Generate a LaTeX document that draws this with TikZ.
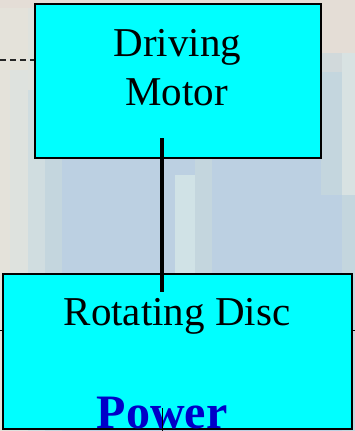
\documentclass[tikz,border=0pt]{standalone}
\usepackage{fontspec}
\setmainfont{Liberation Serif}
\begin{document}
\begin{tikzpicture}[x=1pt,y=-1pt,
  boxstyle/.style={draw=black,line width=1.8pt,fill=boxcyan,inner sep=0pt},
  labeltext/.style={anchor=base,inner sep=0pt,font=\fontsize{41}{49}\selectfont},
  powertext/.style={anchor=base,inner sep=0pt,text=powerblue,font=\fontsize{48}{56}\selectfont\bfseries},
  shaft/.style={line width=4.5pt,black},
  thinline/.style={line width=0.8pt,black}]
\definecolor{boxcyan}{HTML}{00FFFF}
\definecolor{powerblue}{HTML}{0000C8}
\definecolor{bgblue}{HTML}{BCD0E2}
\definecolor{bgbeige}{HTML}{E4E2DA}
\definecolor{bgpink}{HTML}{E4DDD6}
\definecolor{bgpale}{HTML}{D8E2E2}
\definecolor{bgmist}{HTML}{C4D6DE}
\definecolor{bglight}{HTML}{D0E2E6}
\useasboundingbox (0,0) rectangle (355,431);
% backdrop
\fill[bgblue] (0,0) rectangle (355,431);
\fill[bgbeige] (0,0) rectangle (28,431);
\fill[bgbeige!50!bgpale] (10,70) rectangle (28,431);
\fill[bgbeige!60!bgpale] (28,0) rectangle (45,90);
\fill[bgpale!60!bgmist] (28,90) rectangle (45,431);
\fill[bgmist] (45,158) rectangle (62,431);
\fill[bgpink] (0,0) rectangle (355,8);
\fill[bgpink] (321,0) rectangle (355,53);
\fill[bgmist!60!bgpink] (321,53) rectangle (342,72);
\fill[bgmist] (321,72) rectangle (342,195);
\fill[bgpale] (342,53) rectangle (355,195);
\fill[bgmist] (342,195) rectangle (355,431);
\fill[bglight] (175,175) rectangle (195,274);
\fill[bgmist] (195,158) rectangle (212,274);
% guide lines behind the boxes
\coordinate (dashL) at (0,60);
\coordinate (dashR) at (36,60);
\draw[line width=1.3pt,black!85,dash pattern=on 6pt off 4pt] (dashL) -- (dashR);
\coordinate (axisL) at (0,330);
\coordinate (axisR) at (355,330);
\draw[thinline] (axisL) -- (axisR);
% boxes
\node[boxstyle,minimum width=286pt,minimum height=154pt] (motor) at (178,81) {};
\node[boxstyle,minimum width=349pt,minimum height=155pt] (disc) at (177.5,351.5) {};
% labels
\node[labeltext] (motorA) at (177.5,56) {Driving};
\node[labeltext] (motorB) at (176.5,105) {Motor};
\node[labeltext] (discA) at (177,325) {Rotating Disc};
\node[powertext] (power) at (162,428) {Power};
% shaft joining motor and disc
\coordinate (shaftTop) at (162,138);
\coordinate (shaftBot) at (162,292);
\draw[shaft] (shaftTop) -- (shaftBot);
\coordinate (probeTop) at (162,408);
\coordinate (probeBot) at (162,431);
\draw[thinline] (probeTop) -- (probeBot);
\end{tikzpicture}
\end{document}
